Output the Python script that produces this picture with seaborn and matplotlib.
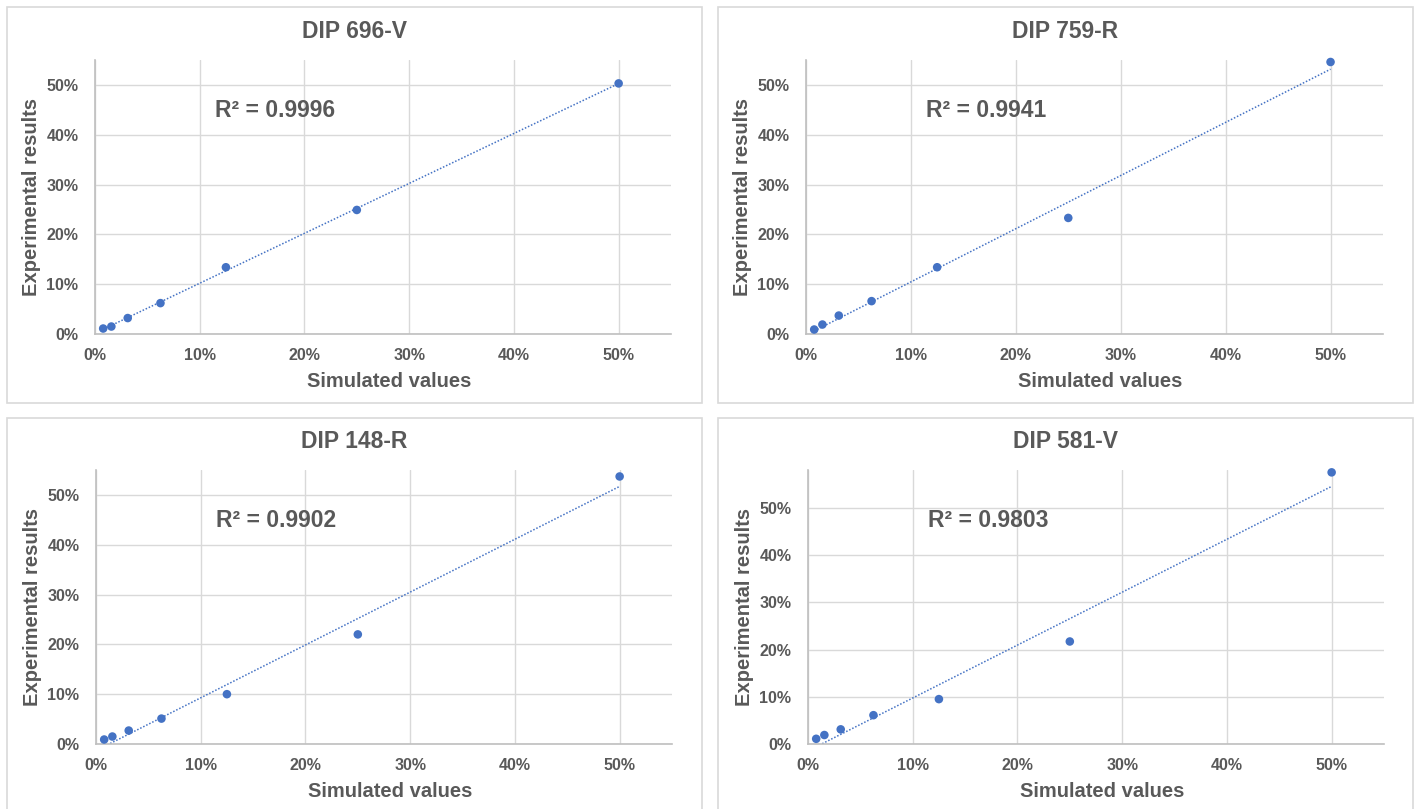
import matplotlib
matplotlib.use("Agg")
import matplotlib.pyplot as plt
import matplotlib.ticker as mtick
from matplotlib.patches import Rectangle
import seaborn as sns
import pandas as pd

# ---- data ----
simulated = [0.0078125, 0.015625, 0.03125, 0.0625, 0.125, 0.25, 0.5]
dip_696_v = [0.011, 0.015, 0.032, 0.062, 0.134, 0.249, 0.503]
dip_759_r = [0.009, 0.019, 0.037, 0.066, 0.134, 0.233, 0.546]
dip_148_r = [0.009, 0.015, 0.027, 0.051, 0.100, 0.220, 0.537]
dip_581_v = [0.011, 0.019, 0.031, 0.061, 0.095, 0.217, 0.575]
titles = ["DIP 696-V", "DIP 759-R", "DIP 148-R", "DIP 581-V"]
r2_labels = ["R² = 0.9996", "R² = 0.9941", "R² = 0.9902", "R² = 0.9803"]
y_max = [0.55, 0.55, 0.55, 0.58]
x_ticks = [0, 0.1, 0.2, 0.3, 0.4, 0.5]
y_ticks = [0, 0.1, 0.2, 0.3, 0.4, 0.5]

series = [dip_696_v, dip_759_r, dip_148_r, dip_581_v]

sns.set_theme(style="white")
plt.rcParams['font.family'] = ['Liberation Sans', 'DejaVu Sans']

TEXT = "#595959"
BLUE = "#4472C4"
GRID = "#D9D9D9"

W, H = 1418, 809
fig = plt.figure(figsize=(W / 100, H / 100), dpi=100)
fig.patch.set_facecolor("white")

# axes rectangles in pixels: left, top, right, bottom
axes_px = [(95, 60, 671, 334), (806, 60, 1383, 334),
           (96, 470, 672, 744), (808, 470, 1384, 744)]
panels_px = [(7, 7, 702, 403), (718, 7, 1413, 403),
             (7, 418, 702, 830), (718, 418, 1413, 830)]
title_y = [31, 31, 441, 441]

for i in range(4):
    pl, pt, pr, pb = panels_px[i]
    fig.patches.append(Rectangle((pl / W, 1 - pb / H), (pr - pl) / W, (pb - pt) / H,
                                 transform=fig.transFigure, fill=False,
                                 edgecolor=GRID, linewidth=1.2, zorder=0))
    l, t, r, b = axes_px[i]
    ax = fig.add_axes([l / W, 1 - b / H, (r - l) / W, (b - t) / H])
    df = pd.DataFrame({"Simulated values": simulated, "Experimental results": series[i]})
    sns.regplot(data=df, x="Simulated values", y="Experimental results", ax=ax,
                ci=None, truncate=True,
                scatter_kws=dict(s=38, color=BLUE, edgecolor="none", zorder=3, alpha=1,
                                 clip_on=False),
                line_kws=dict(color=BLUE, linestyle=(0, (1, 1.2)), linewidth=1.1, zorder=2))
    ax.set_xlim(0, 0.55)
    ax.set_ylim(0, y_max[i])
    ax.set_xticks(x_ticks)
    ax.set_yticks(y_ticks)
    ax.xaxis.set_major_formatter(mtick.PercentFormatter(1.0, decimals=0))
    ax.yaxis.set_major_formatter(mtick.PercentFormatter(1.0, decimals=0))
    ax.grid(True, color=GRID, linewidth=1.0)
    ax.set_axisbelow(True)
    for s in ["top", "right"]:
        ax.spines[s].set_visible(False)
    for s in ["left", "bottom"]:
        ax.spines[s].set_color("#BFBFBF")
        ax.spines[s].set_linewidth(1.2)
    ax.tick_params(axis="both", length=0, labelsize=11.5, labelcolor=TEXT)
    ax.tick_params(axis="x", pad=10)
    ax.tick_params(axis="y", pad=12)
    for lab in ax.get_xticklabels() + ax.get_yticklabels():
        lab.set_fontweight("bold")
    ax.set_xlabel("Simulated values", fontsize=14.5, fontweight="bold", color=TEXT)
    ax.set_ylabel("Experimental results", fontsize=14.5, fontweight="bold", color=TEXT)
    ax.xaxis.set_label_coords(0.51, -0.14)
    ax.yaxis.set_label_coords(-0.093, 0.5)
    ax.text(0.208, 0.815, r2_labels[i], transform=ax.transAxes, ha="left", va="center",
            fontsize=16.5, fontweight="bold", color=TEXT)
    fig.text(((pl + pr) / 2) / W, 1 - title_y[i] / H, titles[i], ha="center", va="center",
             fontsize=16.5, fontweight="bold", color=TEXT)

fig.savefig("out.png", dpi=100, facecolor="white")
